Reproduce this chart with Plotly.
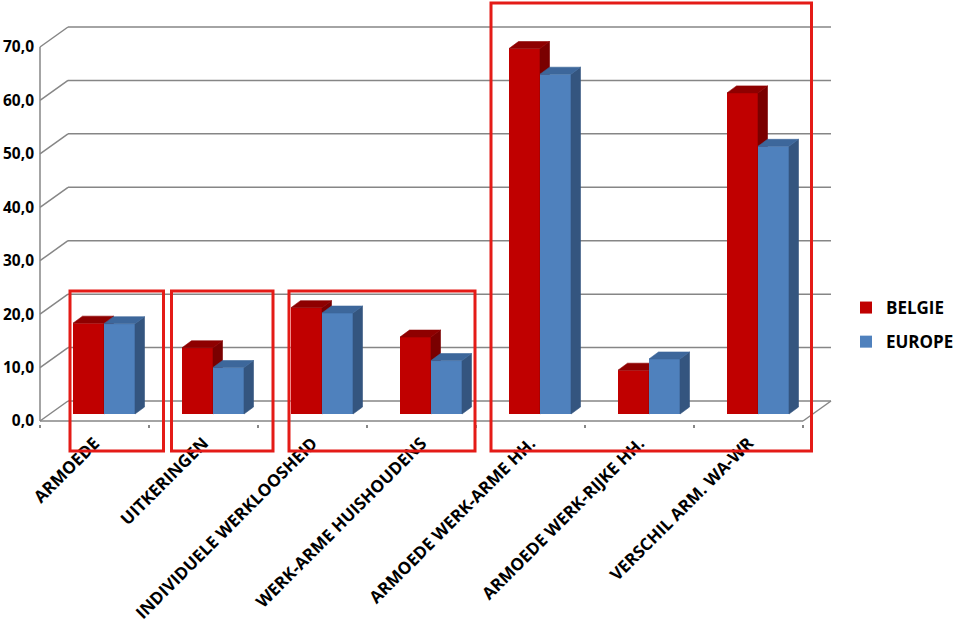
import plotly.graph_objects as go

# ---------------- data ----------------
categories = [
    "ARMOEDE",
    "UITKERINGEN",
    "INDIVIDUELE WERKLOOSHEID",
    "WERK-ARME HUISHOUDENS",
    "ARMOEDE WERK-ARME HH.",
    "ARMOEDE WERK-RIJKE HH.",
    "VERSCHIL ARM. WA-WR",
]
belgie = [17.0, 12.4, 19.9, 14.4, 68.4, 8.2, 60.1]
europe = [16.9, 8.7, 18.9, 10.0, 63.6, 10.3, 50.1]
y_ticks = [0, 10, 20, 30, 40, 50, 60, 70]
series_names = ["BELGIE", "EUROPE"]

# ---------------- geometry (pixels) ----------------
W, H = 960, 630
X0PX = 40.0        # pixel x of category boundary -0.5 (front plane)
CATPX = 109.0      # pixels per category
Y0PX = 421.0       # pixel y of value 0 (front plane)
VPX = 5.343        # pixels per value unit
BACK_DX, BACK_DY = 28.0, 20.0     # back wall offset
PLANE_DX, PLANE_DY = 9.5, 7.0     # bars plane offset
DEPTH_DX, DEPTH_DY = 9.5, 7.0     # bar depth
BAR_PX = 31.0
XD0, YD0 = 37.0, 424.0            # domain left / bottom (pixels)


def to_x(px):
    return -0.5 + (px - X0PX) / CATPX


def to_y(py):
    return (Y0PX - py) / VPX


x_range = [to_x(XD0), to_x(W)]
y_range = [to_y(YD0), to_y(0)]
pdx = PLANE_DX / CATPX
pdy = PLANE_DY / VPX
ddx = DEPTH_DX / CATPX
ddy = DEPTH_DY / VPX
bdx = BACK_DX / CATPX
bdy = BACK_DY / VPX
bw = BAR_PX / CATPX

idx = list(range(len(categories)))
n = len(categories)

GRID = "#868686"
colors = {
    "BELGIE": dict(front="#C00000", top="#8E0000", side="#7A0000"),
    "EUROPE": dict(front="#4F81BD", top="#3D679B", side="#34557F"),
}

fig = go.Figure()


def add_series(name, vals, offset, xa, ya, group):
    c = colors[name]
    fig.add_trace(go.Bar(
        x=idx, y=vals, name=name, width=bw, offset=offset,
        marker=dict(color=c["front"], line=dict(width=0)),
        xaxis=xa, yaxis=ya, legendgroup=group,
        customdata=categories,
        hovertemplate="%{customdata}<br>" + name + ": %{y:.1f}<extra></extra>",
    ))
    tx, ty, sx, sy = [], [], [], []
    for i, v in zip(idx, vals):
        l = i + offset
        r = l + bw
        tx += [l, r, r + ddx, l + ddx, l, None]
        ty += [v, v, v + ddy, v + ddy, v, None]
        sx += [r, r + ddx, r + ddx, r, r, None]
        sy += [0, ddy, v + ddy, v, 0, None]
    for fx, fy, col in ((sx, sy, c["side"]), (tx, ty, c["top"])):
        fig.add_trace(go.Scatter(
            x=fx, y=fy, mode="lines", fill="toself", fillcolor=col,
            line=dict(color=col, width=0.6), xaxis=xa, yaxis=ya,
            showlegend=False, hoverinfo="skip", legendgroup=group,
        ))


add_series("BELGIE", belgie, -bw, "x2", "y2", "g1")
add_series("EUROPE", europe, 0.0, "x3", "y3", "g2")

# ---------------- frame: walls, floor, gridlines ----------------
shapes = []
xl, xr = -0.5, n - 0.5
for v in y_ticks:
    # back wall gridline
    shapes.append(dict(type="line", xref="x", yref="y", layer="below",
                       x0=xl + bdx, x1=xr + bdx, y0=v + bdy, y1=v + bdy,
                       line=dict(color=GRID, width=1.5)))
    # left wall diagonal
    shapes.append(dict(type="line", xref="x", yref="y", layer="below",
                       x0=xl, x1=xl + bdx, y0=v, y1=v + bdy,
                       line=dict(color=GRID, width=1.5)))
# front vertical axis
shapes.append(dict(type="line", xref="x", yref="y", layer="below",
                   x0=xl, x1=xl, y0=0, y1=y_ticks[-1],
                   line=dict(color=GRID, width=1.5)))
# floor front edge and right edge
shapes.append(dict(type="line", xref="x", yref="y", layer="below",
                   x0=xl, x1=xr, y0=0, y1=0, line=dict(color=GRID, width=1.5)))
shapes.append(dict(type="line", xref="x", yref="y", layer="below",
                   x0=xr, x1=xr + bdx, y0=0, y1=bdy, line=dict(color=GRID, width=1.5)))

# ---------------- red highlight boxes (pixels) ----------------
boxes_px = [(70, 291, 163.5, 451), (171.5, 291, 273, 451),
            (289, 291, 475, 451), (491, 3, 811.5, 451)]
for (a, b, c_, d) in boxes_px:
    shapes.append(dict(type="rect", xref="paper", yref="paper", layer="above",
                       x0=a / W, x1=c_ / W, y0=1 - b / H, y1=1 - d / H,
                       line=dict(color="#E41B17", width=3),
                       fillcolor="rgba(0,0,0,0)"))

dom_x = [XD0 / W, 1.0]
dom_y = [1 - YD0 / H, 1.0]

fig.update_layout(
    width=W, height=H,
    margin=dict(l=0, r=0, t=0, b=0),
    paper_bgcolor="white", plot_bgcolor="white",
    separators=",.",
    font=dict(family="Open Sans, Lato, sans-serif", color="#000000"),
    shapes=shapes,
    hovermode="closest",
    legend=dict(
        x=846 / W, xanchor="left", y=1 - 290 / H, yanchor="top",
        font=dict(size=17, weight="bold", color="#000000"),
        tracegroupgap=9, traceorder="grouped",
        bgcolor="rgba(0,0,0,0)",
    ),
    xaxis=dict(
        domain=dom_x, range=x_range, anchor="y",
        tickmode="array", tickvals=idx, ticktext=categories,
        tickangle=-45, tickfont=dict(size=17, weight="bold"),
        ticks="", showgrid=False, zeroline=False, showline=False,
        ticklabelstandoff=5, automargin=False, fixedrange=True,
        minor=dict(tickmode="array", tickvals=[i - 0.5 for i in range(n + 1)],
                   ticks="outside", ticklen=3, tickcolor=GRID, tickwidth=1.5,
                   showgrid=False),
    ),
    yaxis=dict(
        domain=dom_y, range=y_range, anchor="x",
        tickmode="array", tickvals=y_ticks, tickformat=".1f",
        tickfont=dict(size=15.5, weight="bold"),
        ticks="", showgrid=False, zeroline=False, showline=False,
        automargin=False, fixedrange=True, ticklabelstandoff=2,
    ),
    xaxis2=dict(overlaying="x", anchor="y2", visible=False, fixedrange=True,
                range=[x_range[0] - pdx, x_range[1] - pdx]),
    yaxis2=dict(overlaying="y", anchor="x2", visible=False, fixedrange=True,
                range=[y_range[0] - pdy, y_range[1] - pdy]),
    xaxis3=dict(overlaying="x", anchor="y3", visible=False, fixedrange=True,
                range=[x_range[0] - pdx, x_range[1] - pdx]),
    yaxis3=dict(overlaying="y", anchor="x3", visible=False, fixedrange=True,
                range=[y_range[0] - pdy, y_range[1] - pdy]),
)

fig.write_html("out.html", config={"displayModeBar": False},
               post_script="document.body.style.margin='0';")
